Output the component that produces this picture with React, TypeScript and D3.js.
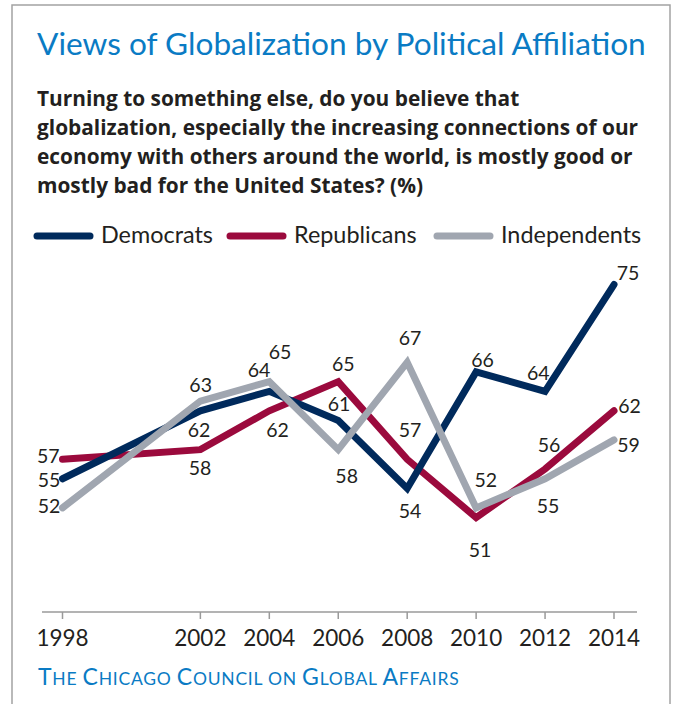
import React from "react";
import * as d3 from "d3";

const years = [1998, 2002, 2004, 2006, 2008, 2010, 2012, 2014];
const democrats = [55, 62, 64, 61, 54, 66, 64, 75];
const republicans = [57, 58, 62, 65, 57, 51, 56, 62];
const independents = [52, 63, 65, 58, 67, 52, 55, 59];
const tickLabels = ["1998", "2002", "2004", "2006", "2008", "2010", "2012", "2014"];

// label placement offsets (dx, dy) relative to each point
const demOffsets = [[-13.5, 8.5], [-1.4, 25.9], [-10.3, -14.7], [0.7, -9.8], [2.8, 29.8], [6.4, -5.2], [-6.8, -11.4], [14, -4.6]];
const repOffsets = [[-14.2, 4], [-0.4, 25.4], [8.2, 25.9], [5, -11], [2.8, -22], [3.9, 39], [3.9, -17.3], [15.5, 2.5]];
const indOffsets = [[-13.5, 5.4], [0.3, -9.4], [10.7, -22.4], [8.4, 33.7], [2.8, -17.2], [9.7, -21.2], [2.9, 34.5], [14.5, 11.8]];

const FONT = "Lato, 'Open Sans', sans-serif";
const BOLDFONT = "'Open Sans', Lato, sans-serif";
const DARK = "#231f20";
const BLUE = "#0a7bc4";

const series = [
  { name: "Republicans", values: republicans, color: "#9b0a3d", offsets: repOffsets },
  { name: "Democrats", values: democrats, color: "#002a5c", offsets: demOffsets },
  { name: "Independents", values: independents, color: "#a0a6b0", offsets: indOffsets },
];

const legendItems = [
  { name: "Democrats", color: "#002a5c", x: 37 },
  { name: "Republicans", color: "#9b0a3d", x: 230 },
  { name: "Independents", color: "#a0a6b0", x: 437 },
];

const footer = "The Chicago Council on Global Affairs";

export default function App() {
  const x = d3.scaleLinear().domain([1998, 2014]).range([62.5, 614]);
  const y = d3.scaleLinear().domain([40, 80]).range([624.4, 236]);
  const axisY = 612;

  const line = d3
    .line<number>()
    .x((_, i) => x(years[i]))
    .y((v) => y(v));

  const subtitle = [
    "Turning to something else, do you believe that",
    "globalization, especially the increasing connections of our",
    "economy with others around the world, is mostly good or",
    "mostly bad for the United States? (%)",
  ];

  const footerSpans = footer.split("").map((ch, i) => {
    const isBig = ch !== " " && ch === ch.toUpperCase();
    return (
      <tspan key={i} fontSize={isBig ? 23 : 17.5}>
        {ch.toUpperCase()}
      </tspan>
    );
  });

  return (
    <svg
      width={675}
      height={704}
      style={{ position: "absolute", left: 0, top: 0, background: "#fff" }}
    >
      <rect x={0} y={0} width={675} height={704} fill="#fff" />
      <rect x={12} y={5} width={658} height={740} fill="none" stroke="#a3a3a3" strokeWidth={1.5} />
      <text x={37} y={55} fontFamily={FONT} fontSize={31.6} fill={BLUE}>
        Views of Globalization by Political Affiliation
      </text>
      {subtitle.map((s, i) => (
        <text key={i} x={37} y={106 + i * 29} fontFamily={BOLDFONT} fontWeight="bold" fontSize={20.85} fill={DARK}>
          {s}
        </text>
      ))}
      {legendItems.map((l) => (
        <g key={l.name}>
          <line x1={l.x} x2={l.x + 53} y1={236} y2={236} stroke={l.color} strokeWidth={7} strokeLinecap="round" />
          <text x={l.x + 64} y={242.5} fontFamily={FONT} fontSize={23.4} fill={DARK}>
            {l.name}
          </text>
        </g>
      ))}
      <line x1={42} x2={637} y1={axisY} y2={axisY} stroke="#9a9a9a" strokeWidth={1.5} />
      {years.map((yr, i) => (
        <g key={yr}>
          <line x1={x(yr)} x2={x(yr)} y1={axisY} y2={axisY + 7} stroke="#9a9a9a" strokeWidth={1.5} />
          <text x={x(yr)} y={646} textAnchor="middle" fontFamily={FONT} fontSize={22.5} fill={DARK}>
            {tickLabels[i]}
          </text>
        </g>
      ))}
      {series.map((s) => (
        <path
          key={s.name}
          d={line(s.values) || ""}
          fill="none"
          stroke={s.color}
          strokeWidth={7}
          strokeLinecap="round"
          strokeLinejoin="miter"
        />
      ))}
      {series.map((s) =>
        s.values.map((v, i) => (
          <text
            key={s.name + i}
            x={x(years[i]) + s.offsets[i][0]}
            y={y(v) + s.offsets[i][1]}
            textAnchor="middle"
            fontFamily={FONT}
            fontSize={19.5}
            fill={DARK}
          >
            {v}
          </text>
        ))
      )}
      <text x={38} y={685} fontFamily={FONT} fill={BLUE} letterSpacing={0.75}>
        {footerSpans}
      </text>
    </svg>
  );
}
